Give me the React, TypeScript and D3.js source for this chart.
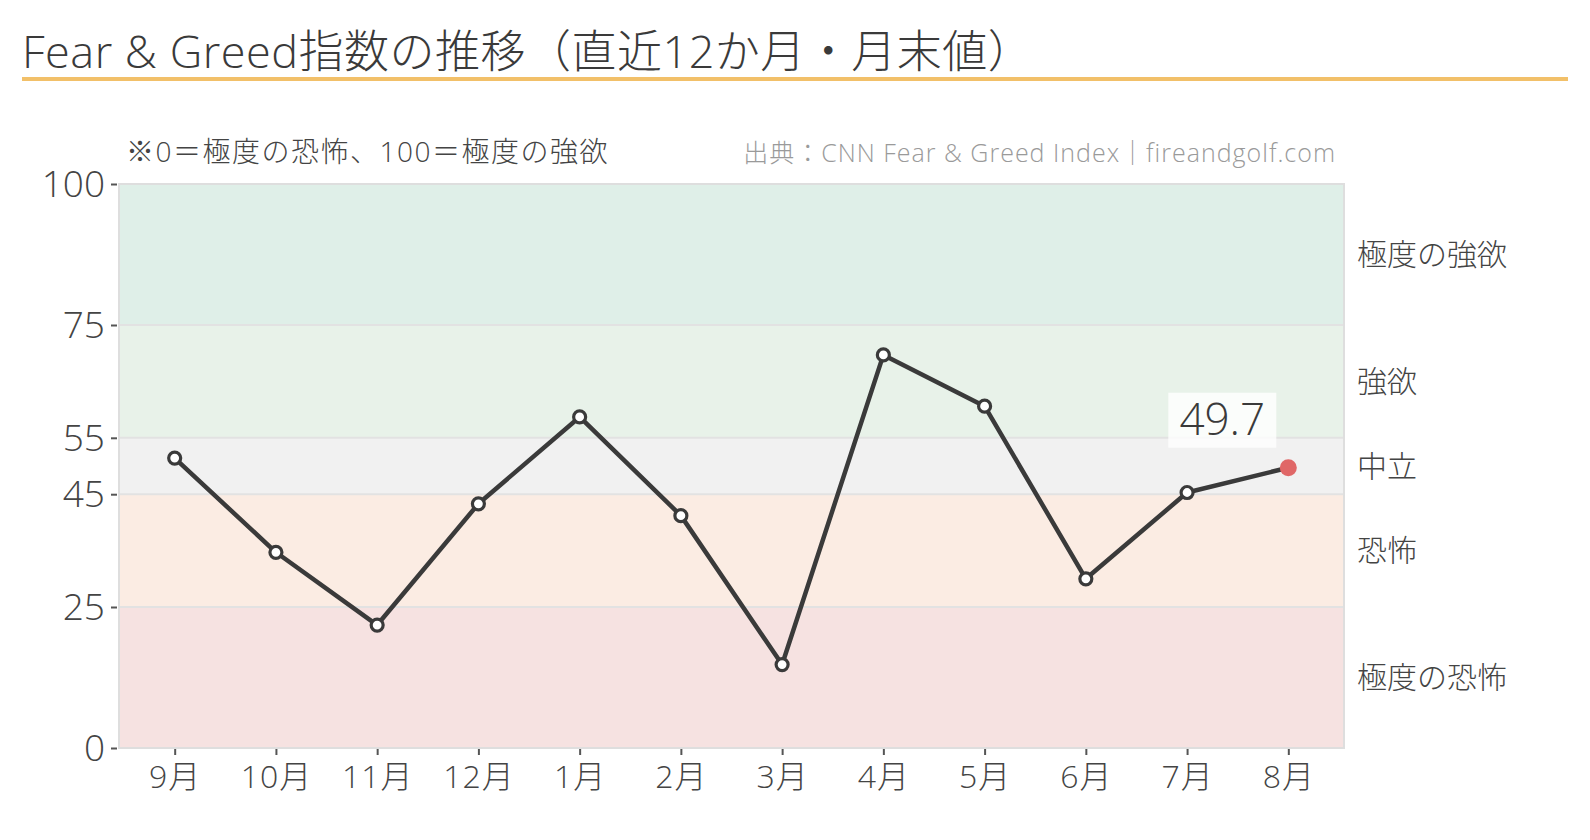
import { useEffect, useRef } from 'react';
import * as d3 from 'd3';

const months = ['9月', '10月', '11月', '12月', '1月', '2月', '3月', '4月', '5月', '6月', '7月', '8月'];
const values = [51.4, 34.7, 21.8, 43.3, 58.7, 41.2, 14.8, 69.7, 60.6, 30.0, 45.3, 49.7];
const yTicks = [0, 25, 45, 55, 75, 100];

const zoneNames = ['極度の恐怖', '恐怖', '中立', '強欲', '極度の強欲'];
const zoneFrom = [0, 25, 45, 55, 75];
const zoneTo = [25, 45, 55, 75, 100];
const zoneColors = ['#f6e2e1', '#fbece3', '#f1f1f1', '#e8f2e9', '#dfefe8'];

const FONT = '"Open Sans", "Noto Sans CJK JP", sans-serif';

const W = 1590;
const H = 840;

const App = () => {
  const ref = useRef<SVGSVGElement>(null);

  useEffect(() => {
    const svg = d3.select(ref.current);
    svg.selectAll('*').remove();

    const left = 119, right = 1344, top = 184, bottom = 748;

    const x = d3.scalePoint<string>().domain(months).range([left, right]).padding(0.55);
    const y = d3.scaleLinear().domain([0, 100]).range([bottom, top]);

    const txt = (sel: d3.Selection<SVGTextElement, any, any, any>, size: number, color: string, ls = 0) =>
      sel.attr('font-family', FONT).attr('font-size', size).attr('font-weight', 300)
        .attr('letter-spacing', ls).attr('fill', color);

    // title
    txt(svg.append('text').attr('x', 22).attr('y', 68), 45, '#3a3a3a', 0.5)
      .text('Fear & Greed指数の推移（直近12か月・月末値）');
    svg.append('rect')
      .attr('x', 22).attr('y', 77).attr('width', W - 44).attr('height', 4)
      .attr('fill', '#f2c069');

    txt(svg.append('text').attr('x', 126).attr('y', 162), 28, '#444', 1.5)
      .text('※0＝極度の恐怖、100＝極度の強欲');
    txt(svg.append('text').attr('x', 1336).attr('y', 162).attr('text-anchor', 'end'), 25, '#9a9a9a', 1)
      .text('出典：CNN Fear & Greed Index｜fireandgolf.com');

    // zones
    const zones = zoneNames.map((name, i) => ({ name, from: zoneFrom[i], to: zoneTo[i], color: zoneColors[i] }));
    svg.append('g').selectAll('rect')
      .data(zones).enter().append('rect')
      .attr('x', left).attr('width', right - left)
      .attr('y', (d) => y(d.to)).attr('height', (d) => y(d.from) - y(d.to))
      .attr('fill', (d) => d.color);

    svg.append('g').selectAll('line')
      .data([25, 45, 55, 75]).enter().append('line')
      .attr('x1', left).attr('x2', right)
      .attr('y1', (d) => y(d)).attr('y2', (d) => y(d))
      .attr('stroke', '#e2e2e2').attr('stroke-width', 2);

    svg.append('rect')
      .attr('x', left).attr('y', top).attr('width', right - left).attr('height', bottom - top)
      .attr('fill', 'none').attr('stroke', '#dedede').attr('stroke-width', 2);

    txt(svg.append('g').selectAll('text')
      .data(zones).enter().append('text')
      .attr('x', right + 13).attr('y', (d) => y((d.from + d.to) / 2))
      .attr('dy', '0.35em'), 30, '#444')
      .text((d) => d.name);

    // axes
    const yAxis = svg.append('g')
      .attr('transform', `translate(${left - 2},0)`)
      .call(d3.axisLeft(y).tickValues(yTicks).tickSize(6).tickPadding(6));
    yAxis.select('.domain').remove();
    yAxis.selectAll('line').attr('stroke', '#555').attr('stroke-width', 2);
    txt(yAxis.selectAll<SVGTextElement, any>('text'), 37, '#444').attr('dy', '0.34em');

    const xAxis = svg.append('g')
      .attr('transform', `translate(0,${bottom + 1})`)
      .call(d3.axisBottom(x).tickSize(6).tickPadding(10));
    xAxis.select('.domain').remove();
    xAxis.selectAll('line').attr('stroke', '#555').attr('stroke-width', 2);
    txt(xAxis.selectAll<SVGTextElement, any>('text'), 32, '#444', 1);

    // line
    const pts = months.map((m, i) => ({ m, v: values[i] }));
    svg.append('path')
      .datum(pts)
      .attr('fill', 'none').attr('stroke', '#3a3a3a').attr('stroke-width', 4.5)
      .attr('stroke-linejoin', 'round')
      .attr('d', d3.line<{ m: string; v: number }>().x((d) => x(d.m)!).y((d) => y(d.v)));

    svg.append('g').selectAll('circle')
      .data(pts.slice(0, -1)).enter().append('circle')
      .attr('cx', (d) => x(d.m)!).attr('cy', (d) => y(d.v)).attr('r', 6)
      .attr('fill', '#fff').attr('stroke', '#3a3a3a').attr('stroke-width', 3.2);

    const last = pts[pts.length - 1];
    svg.append('circle')
      .attr('cx', x(last.m)!).attr('cy', y(last.v)).attr('r', 8.5)
      .attr('fill', '#e06767');

    const lx = x(last.m)! - 66;
    const ly = y(last.v) - 48;
    svg.append('rect')
      .attr('x', lx - 54).attr('y', ly - 27).attr('width', 108).attr('height', 55)
      .attr('fill', '#fff').attr('opacity', 0.8);
    txt(svg.append('text')
      .attr('x', lx).attr('y', ly).attr('dy', '0.35em').attr('text-anchor', 'middle'), 44, '#3a3a3a')
      .text(last.v.toFixed(1));
  }, []);

  return <svg ref={ref} width={W} height={H} style={{ display: 'block', margin: -8, background: '#fff' }} />;
};

export default App;
